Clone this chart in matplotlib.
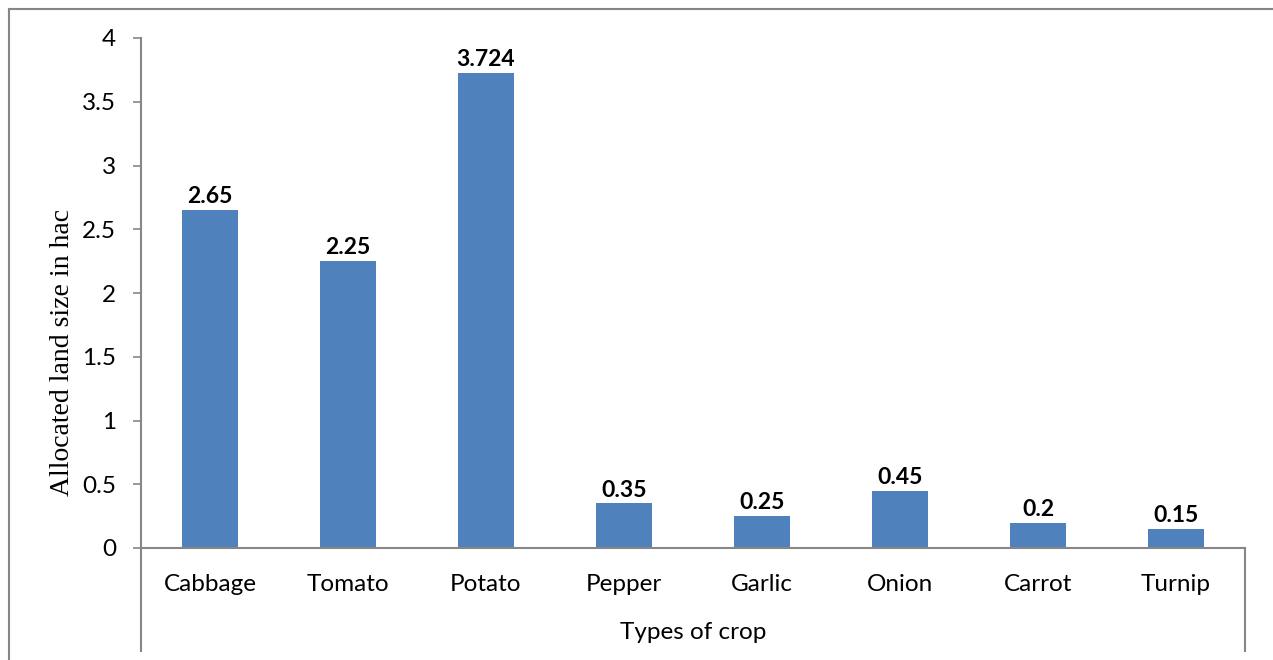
import matplotlib
matplotlib.use("Agg")
import matplotlib.pyplot as plt
from matplotlib.lines import Line2D

crops = ["Cabbage", "Tomato", "Potato", "Pepper", "Garlic", "Onion", "Carrot", "Turnip"]
land = [2.65, 2.25, 3.724, 0.35, 0.25, 0.45, 0.2, 0.15]
bar_labels = ["2.65", "2.25", "3.724", "0.35", "0.25", "0.45", "0.2", "0.15"]
yticks = [0, 0.5, 1, 1.5, 2, 2.5, 3, 3.5, 4]
ytick_labels = ["0", "0.5", "1", "1.5", "2", "2.5", "3", "3.5", "4"]

W, H = 1273, 660
fig = plt.figure(figsize=(W / 100, H / 100), dpi=100)
ax = fig.add_axes([141 / W, 1 - 548 / H, (1245 - 141) / W, 510 / H])

gray = "#868686"
sans = ["Lato", "DejaVu Sans"]

x = list(range(len(crops)))
ax.bar(x, land, width=0.4, color="#4F81BD", zorder=2)
ax.set_xlim(-0.5, len(crops) - 0.5)
ax.set_ylim(0, 4)

for xi, v, lab in zip(x, land, bar_labels):
    ax.annotate(lab, (xi, v), xytext=(0, 2), textcoords="offset points",
                ha="center", va="bottom", fontsize=16.5, fontweight="bold",
                family=sans, color="black")

ax.set_yticks(yticks)
ax.set_yticklabels(ytick_labels, family=sans, fontsize=17.5)
ax.set_xticks(x)
ax.set_xticklabels(crops, family=sans, fontsize=17.5)
ax.tick_params(axis="y", length=6, width=1.2, color=gray, pad=12)
ax.tick_params(axis="x", length=0, pad=19)

for s in ["top", "right"]:
    ax.spines[s].set_visible(False)
for s in ["left", "bottom"]:
    ax.spines[s].set_color(gray)
    ax.spines[s].set_linewidth(1.5)

# extended category axis frame below the x-axis
ext = (548 - 651) / 510
ax.add_line(Line2D([0, 0], [0, ext], transform=ax.transAxes, clip_on=False,
                   color=gray, lw=1.5))
ax.add_line(Line2D([1, 1], [0, ext], transform=ax.transAxes, clip_on=False,
                   color=gray, lw=1.5))

ax.set_xlabel("Types of crop", family=sans, fontsize=17.5)
ax.xaxis.set_label_coords(0.5, (548 - 622) / 510)
ax.set_ylabel("Allocated land size in hac", family=["Liberation Serif"], fontsize=20)
ax.yaxis.set_label_coords((75 - 141) / 1104, (548 - 353) / 510)

# outer chart border (left and top visible)
fig.add_artist(Line2D([9 / W, 9 / W], [0, 1 - 9 / H], transform=fig.transFigure,
                      color=gray, lw=1.5))
fig.add_artist(Line2D([9 / W, 1], [1 - 9 / H, 1 - 9 / H], transform=fig.transFigure,
                      color=gray, lw=1.5))

fig.savefig("out.png", dpi=100)
